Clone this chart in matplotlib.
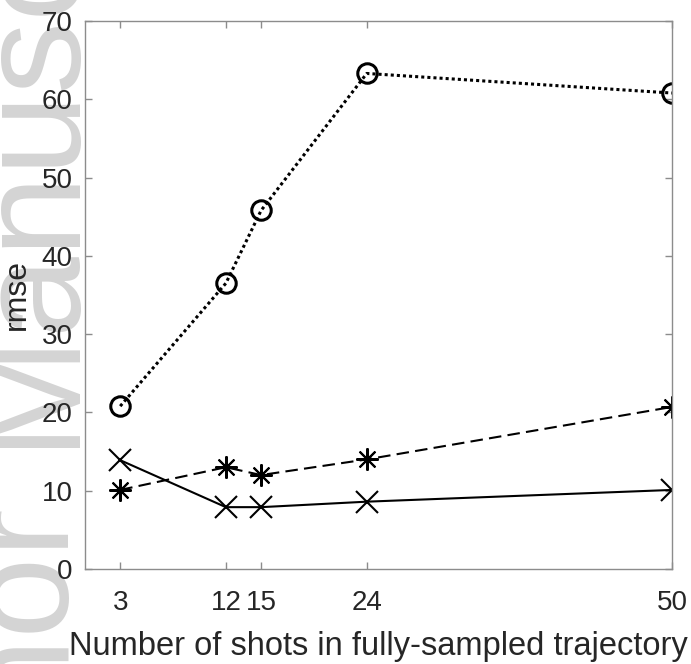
import matplotlib
matplotlib.use("Agg")
import matplotlib.pyplot as plt

shots = [3, 12, 15, 24, 50]
rmse_circle = [20.8, 36.5, 45.8, 63.3, 60.8]
rmse_star = [10.1, 13.0, 12.0, 14.0, 20.7]
rmse_cross = [13.9, 7.9, 7.9, 8.6, 10.1]

xticks = [3, 12, 15, 24, 50]
yticks = [0, 10, 20, 30, 40, 50, 60, 70]

plt.rcParams["font.family"] = ["Liberation Sans", "DejaVu Sans"]

fig = plt.figure(figsize=(6.91, 6.64), dpi=100)

# faint watermark in the left margin, behind everything
wm_color = "#d4d4d4"
fig.text(69 / 691, 1 - 447 / 664, "Manuscript", rotation=90, rotation_mode="anchor",
         ha="left", va="baseline", fontsize=105, color=wm_color, zorder=-1)
fig.text(69 / 691, 1 - 507 / 664, "Author", rotation=90, rotation_mode="anchor",
         ha="right", va="baseline", fontsize=105, color=wm_color, zorder=-1)

ax = fig.add_axes([85 / 691, 1 - 569 / 664, 587 / 691, 548 / 664])
ax.patch.set_alpha(0)

ax.plot(shots, rmse_circle, color="black", linestyle=(0, (1, 1)), linewidth=2.2,
        marker="o", markersize=14, markerfacecolor="none", markeredgewidth=2.2)
ax.plot(shots, rmse_star, color="black", linestyle=(0, (6, 3)), linewidth=1.5,
        marker=(8, 2, 0), markersize=16, markeredgewidth=1.5)
ax.plot(shots, rmse_cross, color="black", linestyle="-", linewidth=1.5,
        marker="x", markersize=16, markeredgewidth=1.5)

ax.set_xlim(0, 50)
ax.set_ylim(0, 70)
ax.set_xticks(xticks)
ax.set_yticks(yticks)

axis_grey = "#8c8c8c"
for spine in ax.spines.values():
    spine.set_color(axis_grey)
    spine.set_linewidth(1.0)
ax.tick_params(direction="in", length=5, width=1.0, color=axis_grey,
               labelcolor="#262626", labelsize=20, top=True, right=True)
ax.tick_params(axis="x", pad=15)
ax.tick_params(axis="y", pad=9)

ax.set_xlabel("Number of shots in fully-sampled trajectory", fontsize=23.5, color="#262626")
ax.set_ylabel("rmse", fontsize=23, color="#262626")
ax.xaxis.set_label_coords(0.5, -0.113)
ax.yaxis.set_label_coords(-0.090, 0.5)

fig.savefig("out.png", dpi=100)
